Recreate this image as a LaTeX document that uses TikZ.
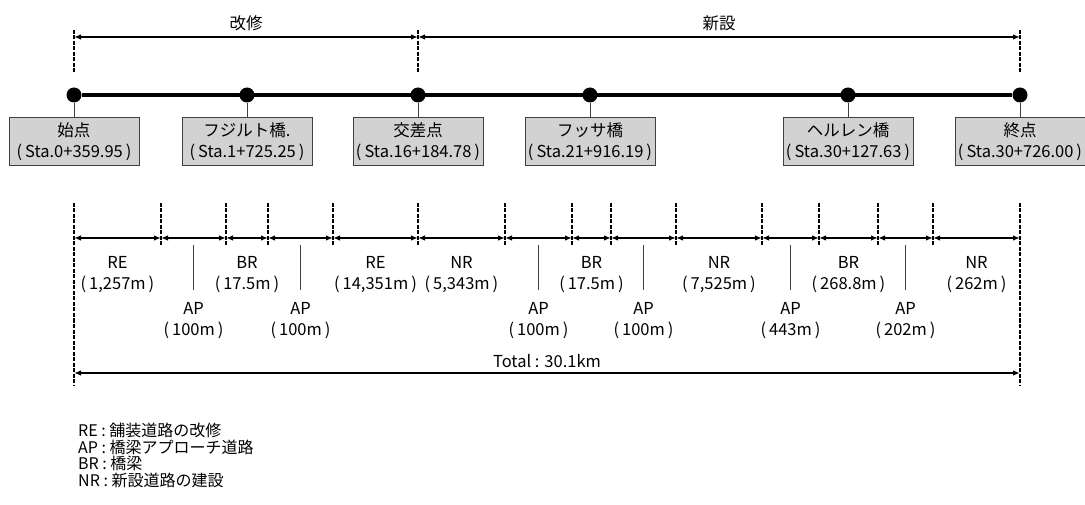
\documentclass[tikz,border=0pt]{standalone}
\usepackage{fontspec}
\setmainfont{Noto Sans CJK JP}
\usetikzlibrary{arrows.meta, positioning, calc}

\newcommand{\pa}[1]{(\hspace{3pt}#1\hspace{3pt})}

\tikzset{
    dot/.style={circle, fill=black, inner sep=0pt, minimum size=15pt},
    stabox/.style={draw=black!75, fill=gray!35, line width=0.8pt, minimum width=130pt, minimum height=48pt,
        align=center, inner sep=0pt, font=\fontsize{16.5}{21}\selectfont},
    dimline/.style={line width=2pt, {Latex[length=7pt,width=5.5pt]}-{Latex[length=7pt,width=5.5pt]}},
    guide/.style={line width=2pt, dash pattern=on 4pt off 1.5pt},
    seglabel/.style={align=center, font=\fontsize{16.5}{21}\selectfont},
}

\begin{document}
\begin{tikzpicture}[x=1pt, y=-1pt, font=\fontsize{16.5}{18}\selectfont]
    \useasboundingbox (0,0) rectangle (1085,505);

    % stations
    \node[dot] (p0) at (74,95) {};
    \node[dot] (p1) at (247,95) {};
    \node[dot] (p2) at (418,95) {};
    \node[dot] (p3) at (590,95) {};
    \node[dot] (p4) at (848,95) {};
    \node[dot] (p5) at (1020,95) {};
    \draw[line width=4pt] (p0) -- (p5);

    \node[stabox, below=14.5pt of p0] (s0) {始点\\\pa{Sta.0+359.95}};
    \node[stabox, below=14.5pt of p1] (s1) {フジルト橋.\\\pa{Sta.1+725.25}};
    \node[stabox, below=14.5pt of p2] (s2) {交差点\\\pa{Sta.16+184.78}};
    \node[stabox, below=14.5pt of p3] (s3) {フッサ橋\\\pa{Sta.21+916.19}};
    \node[stabox, below=14.5pt of p4] (s4) {ヘルレン橋\\\pa{Sta.30+127.63}};
    \node[stabox, below=14.5pt of p5] (s5) {終点\\\pa{Sta.30+726.00}};
    \foreach \i in {0,...,5}
        \draw[black!75, line width=0.9pt] (p\i) -- (s\i);

    % 改修 / 新設
    \coordinate (t0) at (74,37);
    \coordinate (t1) at (418,37);
    \coordinate (t2) at (1020,37);
    \foreach \i/\p in {0/0,1/2,2/5}
        \draw[guide] ([yshift=7pt]t\i) -- ([yshift=15pt]p\p.north);
    \draw[dimline] (t0) -- (t1);
    \draw[dimline] (t1) -- (t2);
    \node (kaishu) at ($(t0)!0.5!(t1)+(0,-14)$) {改修};
    \node (shinsetsu) at ($(t1)!0.5!(t2)+(0,-14)$) {新設};

    % sections
    \foreach \x [count=\i from 0] in {74,161,226,268,333,418,505,572,611,676,762,819,878,933,1020}
        \coordinate (b\i) at (\x,238);
    \foreach \i in {1,...,13}
        \draw[guide] ([yshift=35pt]b\i) -- ([yshift=-7pt]b\i);
    \draw[guide] ([yshift=35pt]b0) -- ([yshift=-147pt]b0);
    \draw[guide] ([yshift=35pt]b14) -- ([yshift=-147pt]b14);
    \foreach \i [evaluate=\i as \j using int(\i+1)] in {0,...,13}
        \draw[dimline] (b\i) -- (b\j);

    \foreach \a/\b/\t/\l in {0/1/RE/{1,257m}, 2/3/BR/17.5m, 4/5/RE/{14,351m}, 5/6/NR/{5,343m},
            7/8/BR/17.5m, 9/10/NR/{7,525m}, 11/12/BR/268.8m, 13/14/NR/262m}
        \node[seglabel] (l\a) at ($(b\a)!0.5!(b\b)+(0,37)$) {\t\\\pa{\l}};

    \foreach \a/\b/\l in {1/2/100m, 3/4/100m, 6/7/100m, 8/9/100m, 10/11/443m, 12/13/202m} {
        \coordinate (m\a) at ($(b\a)!0.5!(b\b)$);
        \node[seglabel] (ap\a) at ($(m\a)+(0,83)$) {AP\\\pa{\l}};
        \draw[black!75, line width=0.9pt] ([yshift=-7pt]m\a) -- ([yshift=-52pt]m\a);
    }

    % total
    \coordinate (tot0) at (74,373);
    \coordinate (tot1) at (1020,373);
    \draw[dimline] (tot0) -- (tot1) node[midway, above=1pt] (total) {Total : 30.1km};

    % legend
    \node[anchor=north west, align=left, inner sep=0pt, font=\fontsize{16}{16.6}\selectfont]
        (legend) at (78,423) {RE : 舗装道路の改修\\AP : 橋梁アプローチ道路\\BR : 橋梁\\NR : 新設道路の建設};
\end{tikzpicture}
\end{document}
